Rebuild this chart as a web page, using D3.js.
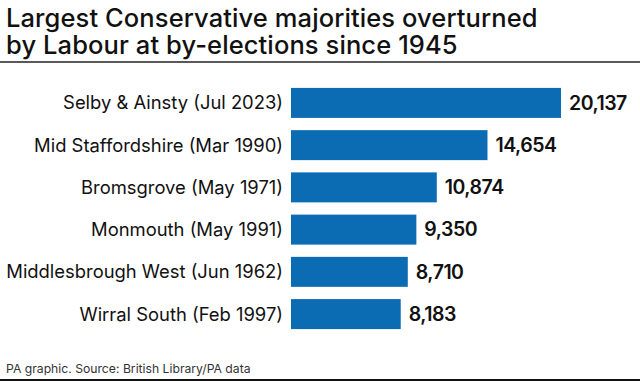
<!DOCTYPE html>
<html>
<head>
<meta charset="utf-8">
<script src="https://cdn.jsdelivr.net/npm/d3@7"></script>
<style>
  body { margin: 0; background: #fff; }
  svg text { font-family: Inter, "Open Sans", sans-serif; }
</style>
</head>
<body>
<script>
// data
const seats = [
  "Selby & Ainsty (Jul 2023)",
  "Mid Staffordshire (Mar 1990)",
  "Bromsgrove (May 1971)",
  "Monmouth (May 1991)",
  "Middlesbrough West (Jun 1962)",
  "Wirral South (Feb 1997)"
];
const majorities = [20137, 14654, 10874, 9350, 8710, 8183];
const titleLines = ["Largest Conservative majorities overturned", "by Labour at by-elections since 1945"];
const source = "PA graphic. Source: British Library/PA data";

const W = 640, H = 381;
const svg = d3.select("body").append("svg")
  .attr("width", W)
  .attr("height", H);

// title, one text block with two lines
const title = svg.append("text")
  .attr("x", 6)
  .attr("y", 27)
  .attr("font-size", 25.5)
  .attr("font-weight", 500)
  .attr("letter-spacing", 0.1)
  .attr("fill", "#111");
title.selectAll("tspan")
  .data(titleLines)
  .enter().append("tspan")
  .attr("x", 6)
  .attr("dy", (d, i) => i ? 27 : 0)
  .text(d => d);

svg.append("line")
  .attr("x1", 0).attr("x2", W)
  .attr("y1", 62).attr("y2", 62)
  .attr("stroke", "#222")
  .attr("stroke-width", 1.5);

const data = seats.map((s, i) => ({seat: s, value: majorities[i]}));

const x = d3.scaleLinear()
  .domain([0, 20137])
  .range([291, 561]);

const y = d3.scaleBand()
  .domain(seats)
  .range([82, 335])
  .paddingInner(0.29)
  .paddingOuter(0.14);

svg.selectAll(".bar")
  .data(data)
  .enter().append("rect")
  .attr("class", "bar")
  .attr("x", x(0))
  .attr("y", d => y(d.seat))
  .attr("width", d => x(d.value) - x(0))
  .attr("height", y.bandwidth())
  .attr("fill", "#0b6bb3");

svg.selectAll(".lab")
  .data(data)
  .enter().append("text")
  .attr("class", "lab")
  .attr("x", 283)
  .attr("y", d => y(d.seat) + y.bandwidth() / 2)
  .attr("dy", "0.35em")
  .attr("text-anchor", "end")
  .attr("font-size", 18.4)
  .attr("fill", "#111")
  .text(d => d.seat);

svg.selectAll(".val")
  .data(data)
  .enter().append("text")
  .attr("class", "val")
  .attr("x", d => x(d.value) + 8)
  .attr("y", d => y(d.seat) + y.bandwidth() / 2)
  .attr("dy", "0.35em")
  .attr("font-size", 19.5)
  .attr("font-weight", 600)
  .attr("letter-spacing", -0.5)
  .attr("fill", "#111")
  .text(d => d3.format(",")(d.value));

svg.append("text")
  .attr("x", 6)
  .attr("y", 373)
  .attr("font-size", 12.2)
  .attr("fill", "#333")
  .text(source);

svg.append("line")
  .attr("x1", 0).attr("x2", W)
  .attr("y1", 380).attr("y2", 380)
  .attr("stroke", "#111")
  .attr("stroke-width", 2);
</script>
</body>
</html>
